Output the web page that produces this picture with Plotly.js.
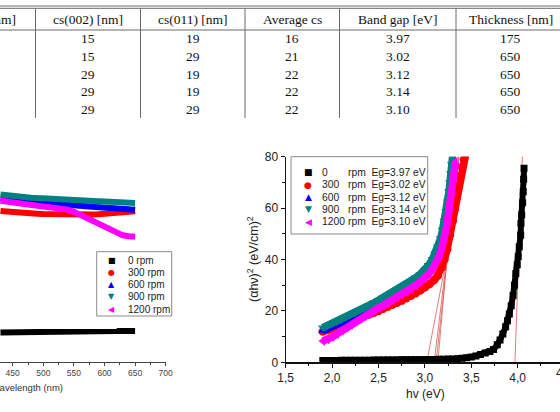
<!DOCTYPE html>
<html>
<head>
<meta charset="utf-8">
<script src="https://cdn.plot.ly/plotly-3.0.1.min.js"></script>
<style>
  html, body { margin: 0; padding: 0; background: #fff; }
  #chart { width: 560px; height: 412px; }
</style>
</head>
<body>
<div id="chart"></div>
<script>
// ---------------- data ----------------
const speeds    = [0, 300, 600, 900, 1200];          // spin speed (rpm)
const cs002     = [15, 15, 29, 29, 29];
const cs011     = [19, 29, 19, 19, 29];
const avgCs     = [16, 21, 22, 22, 22];
const bandGap   = [3.97, 3.02, 3.12, 3.14, 3.10];    // eV
const thickness = [175, 650, 650, 650, 650];         // nm
const tableHeaders = ['cs(010) [nm]', 'cs(002) [nm]', 'cs(011) [nm]', 'Average cs', 'Band gap [eV]', 'Thickness [nm]'];

// transmission spectra vs wavelength
const wavelength = [430,440,450,460,470,480,490,500,510,520,530,540,550,560,570,580,590,600,610,620,630,640,650];
const trans0    = [13.2,13.2,13.3,13.3,13.3,13.4,13.4,13.4,13.5,13.5,13.5,13.6,13.6,13.6,13.7,13.7,13.7,13.8,13.8,13.8,13.9,13.9,13.9];
const trans300  = [68.0,67.7,67.4,67.2,67.0,66.8,66.7,66.6,66.5,66.4,66.4,66.3,66.3,66.3,66.3,66.4,66.5,66.6,66.8,67.0,67.3,67.6,67.9];
const trans600  = [73.7,73.3,72.9,72.6,72.3,72.0,71.8,71.6,71.3,71.1,70.9,70.7,70.5,70.3,70.1,69.9,69.7,69.5,69.3,69.1,68.9,68.7,68.5];
const trans900  = [75.4,75.0,74.7,74.4,74.2,74.0,73.8,73.6,73.4,73.2,73.0,72.9,72.8,72.7,72.6,72.5,72.4,72.3,72.2,72.1,71.9,71.7,71.6];
const trans1200 = [72.6,72.1,71.6,71.2,70.9,70.6,70.3,70.0,69.7,69.4,69.1,68.6,67.6,66.3,64.9,63.5,62.2,61.0,59.5,58.0,57.0,56.6,56.4];

// Tauc plot: (alpha h nu)^2 vs photon energy
const hv0   = [1.90,1.95,2.00,2.05,2.10,2.15,2.20,2.25,2.30,2.35,2.40,2.45,2.50,2.55,2.60,2.65,2.70,2.75,2.80,2.85,2.90,2.95,3.00,3.05,3.10,3.15,3.20,3.25,3.30,3.35,3.40,3.45,3.50,3.55,3.60,3.65,3.70,3.74,3.78,3.81,3.84,3.87,3.89,3.91,3.93,3.95,3.965,3.98,3.995,4.006,4.017,4.032,4.035,4.043,4.053,4.060,4.064,4.068];
const tauc0 = [0.7,0.7,0.7,0.7,0.75,0.75,0.75,0.8,0.8,0.8,0.8,0.85,0.85,0.85,0.9,0.9,0.9,0.95,0.95,1.0,1.0,1.0,1.05,1.1,1.1,1.15,1.2,1.25,1.3,1.4,1.6,1.8,2.1,2.5,3.0,3.6,4.2,5.0,6.8,8.7,11.0,13.8,16.2,18.8,22.0,26.0,30.0,34.6,38.0,41.1,45.0,49.5,54.1,57.3,62.1,66.4,71.2,75.5];

const hv300   = [1.90,1.95,2.00,2.05,2.10,2.15,2.20,2.25,2.30,2.35,2.40,2.45,2.50,2.55,2.60,2.65,2.70,2.75,2.80,2.85,2.90,2.95,3.00,3.05,3.10,3.14,3.18,3.21,3.24,3.27,3.30,3.32,3.34,3.36,3.38,3.40,3.42,3.44];
const tauc300 = [12.0,12.5,13.0,13.7,14.4,15.1,15.9,16.7,17.3,18.0,18.6,19.3,20.0,20.8,21.6,22.4,23.2,24.0,24.9,25.9,26.9,28.0,29.2,30.5,32.0,33.8,36.8,40.0,44.0,49.5,55.0,59.5,64.0,68.5,72.5,76.0,79.0,81.0];

const hv600   = [1.90,1.95,2.00,2.05,2.10,2.15,2.20,2.25,2.30,2.35,2.40,2.45,2.50,2.55,2.60,2.65,2.70,2.75,2.80,2.85,2.90,2.95,3.00,3.04,3.08,3.11,3.14,3.17,3.19,3.21,3.23,3.25,3.265,3.28,3.29,3.30];
const tauc600 = [12.3,13.0,13.8,14.6,15.4,16.3,17.2,18.1,19.0,20.0,20.9,21.9,22.8,23.8,24.8,25.8,26.8,27.9,29.0,30.1,31.3,32.7,34.2,35.8,37.8,39.8,42.2,45.2,48.0,51.5,55.5,60.0,64.5,69.5,73.5,77.5];

const hv900   = [1.90,1.95,2.00,2.05,2.10,2.15,2.20,2.25,2.30,2.35,2.40,2.45,2.50,2.55,2.60,2.65,2.70,2.75,2.80,2.85,2.90,2.95,3.00,3.04,3.08,3.11,3.14,3.17,3.19,3.21,3.23,3.245,3.26,3.27,3.28,3.29,3.30];
const tauc900 = [13.5,14.3,15.0,15.8,16.6,17.5,18.4,19.3,20.3,21.2,22.2,23.1,24.1,25.1,26.1,27.1,28.2,29.3,30.4,31.6,32.9,34.3,36.0,37.8,40.0,42.3,45.0,48.2,51.5,55.0,58.7,62.5,66.5,70.0,73.5,77.0,80.5];

const hv1200   = [1.90,1.95,2.00,2.05,2.10,2.15,2.20,2.25,2.30,2.35,2.40,2.45,2.50,2.55,2.60,2.65,2.70,2.75,2.80,2.85,2.90,2.95,3.00,3.04,3.08,3.12,3.15,3.18,3.21,3.23,3.25,3.27,3.29,3.305,3.32,3.33];
const tauc1200 = [8.3,8.8,9.8,11.0,12.2,13.4,14.6,15.8,16.9,18.0,19.1,20.1,21.1,22.1,23.1,24.1,25.2,26.3,27.4,28.6,29.9,31.3,32.8,34.3,36.2,38.5,41.0,44.0,48.0,52.0,56.5,61.5,66.5,71.0,75.0,78.0];

// slopes of the linear fits used to extrapolate the band gaps, (eV/cm)^2 per eV
const fitSlope = [1000, 190, 330, 420, 300];

// ---------------- styling ----------------
const colors  = ['#000000', '#ff0000', '#0000ff', '#008080', '#ff00ff'];
const symbols = ['square', 'circle', 'triangle-up', 'triangle-down', 'triangle-left'];
const glyphs  = ['\u25A0', '\u25CF', '\u25B2', '\u25BC', '\u25C0'];
const W = 560, H = 412;
const px = x => x / W;          // pixel -> paper (x)
const py = y => 1 - y / H;      // pixel -> paper (y)
const sans = 'Liberation Sans, Arial, sans-serif';
const serif = 'Liberation Serif, Times New Roman, serif';

const transSeries = [trans0, trans300, trans600, trans900, trans1200];
const hvSeries    = [hv0, hv300, hv600, hv900, hv1200];
const taucSeries  = [tauc0, tauc300, tauc600, tauc900, tauc1200];

const traces = [];

// transmission curves (left panel)
transSeries.forEach((t, i) => {
  traces.push({
    type: 'scatter', mode: 'lines', x: wavelength, y: t,
    xaxis: 'x', yaxis: 'y', showlegend: false,
    line: { color: colors[i], width: 6 }
  });
});

// extrapolated linear fits (right panel)
bandGap.forEach((eg, i) => {
  traces.push({
    type: 'scatter', mode: 'lines',
    x: [eg, eg + 85 / fitSlope[i]], y: [0, 85],
    xaxis: 'x2', yaxis: 'y2', showlegend: false,
    line: { color: '#e05a5a', width: 0.8 }
  });
});

// Tauc curves (right panel): dense symbols drawn as a thick band
hvSeries.forEach((hv, i) => {
  traces.push({
    type: 'scatter', mode: 'lines+markers', x: hv, y: taucSeries[i],
    xaxis: 'x2', yaxis: 'y2', showlegend: false,
    line: { color: colors[i], width: i === 0 ? 6 : 7.5 },
    marker: { color: colors[i], symbol: symbols[i], size: i === 0 ? 7 : 8.5, line: { width: 0 } }
  });
});

// ---------------- table ----------------
const shapes = [];
const annotations = [];
const lineCol = '#6a6a6a';
shapes.push({ type: 'line', xref: 'paper', yref: 'paper', x0: 0, x1: 1, y0: py(6), y1: py(6), line: { color: lineCol, width: 1 } });
shapes.push({ type: 'line', xref: 'paper', yref: 'paper', x0: 0, x1: 1, y0: py(8.3), y1: py(8.3), line: { color: lineCol, width: 1 } });
shapes.push({ type: 'line', xref: 'paper', yref: 'paper', x0: 0, x1: 1, y0: py(30), y1: py(30), line: { color: lineCol, width: 1 } });
const colLines = [35.5, 140.5, 245, 339.5, 456];
colLines.forEach(x => shapes.push({ type: 'line', xref: 'paper', yref: 'paper', x0: px(x), x1: px(x), y0: py(8.3), y1: py(118), line: { color: lineCol, width: 1 } }));

const colCenters = [-19, 88, 192.5, 292, 397.5, 510.5];
const tableCols = [null, cs002, cs011, avgCs, bandGap.map(v => v.toFixed(2)), thickness];
const headerY = 19.5, rowY0 = 38.9, rowDy = 17.6;
const tFont = { family: serif, size: 13.5, color: '#111' };
tableHeaders.forEach((h, j) => {
  annotations.push({ xref: 'paper', yref: 'paper', x: px(colCenters[j]), y: py(headerY), text: h, showarrow: false, xanchor: 'center', yanchor: 'middle', font: tFont });
  if (tableCols[j]) tableCols[j].forEach((v, r) => {
    annotations.push({ xref: 'paper', yref: 'paper', x: px(colCenters[j]), y: py(rowY0 + r * rowDy), text: String(v), showarrow: false, xanchor: 'center', yanchor: 'middle', font: tFont });
  });
});

// ---------------- left legend ----------------
shapes.push({ type: 'rect', xref: 'paper', yref: 'paper', x0: px(96.7), x1: px(171.7), y0: py(251.7), y1: py(316), fillcolor: '#fff', line: { color: '#8a8a8a', width: 1 } });
speeds.forEach((s, i) => {
  const y = 260 + i * 12.3;
  annotations.push({ xref: 'paper', yref: 'paper', x: px(111.7), y: py(y), text: glyphs[i], showarrow: false, xanchor: 'center', yanchor: 'middle', font: { family: 'DejaVu Sans', size: 8, color: colors[i] } });
  annotations.push({ xref: 'paper', yref: 'paper', x: px(126), y: py(y), text: s + ' rpm', showarrow: false, xanchor: 'left', yanchor: 'middle', font: { family: sans, size: 10, color: '#222' } });
});
annotations.push({ xref: 'paper', yref: 'paper', x: px(65), y: py(387), text: 'Wavelength (nm)', showarrow: false, xanchor: 'right', yanchor: 'middle', font: { family: sans, size: 9.5, color: '#333' } });

// ---------------- right legend ----------------
shapes.push({ type: 'rect', xref: 'paper', yref: 'paper', x0: px(291), x1: px(427.7), y0: py(156.7), y1: py(234), fillcolor: '#fff', line: { color: '#8a8a8a', width: 1 }, layer: 'above' });
speeds.forEach((s, i) => {
  const y = 172.3 + i * 12.35;
  annotations.push({ xref: 'paper', yref: 'paper', x: px(308), y: py(y), text: glyphs[i], showarrow: false, xanchor: 'center', yanchor: 'middle', font: { family: 'DejaVu Sans', size: 9, color: colors[i] } });
  annotations.push({ xref: 'paper', yref: 'paper', x: px(320), y: py(y), text: String(s), showarrow: false, xanchor: 'left', yanchor: 'middle', font: { family: sans, size: 10.3, color: '#222' } });
  annotations.push({ xref: 'paper', yref: 'paper', x: px(345.5), y: py(y), text: 'rpm\u00a0\u00a0Eg=' + bandGap[i].toFixed(2) + ' eV', showarrow: false, xanchor: 'left', yanchor: 'middle', font: { family: sans, size: 10.3, color: '#222' } });
});
annotations.push({ xref: 'paper', yref: 'paper', x: px(253), y: py(259), text: '(\u03b1h\u03bd)<sup>2</sup> (eV/cm)<sup>2</sup>', textangle: -90, showarrow: false, xanchor: 'center', yanchor: 'middle', font: { family: sans, size: 12.5, color: '#222' } });
annotations.push({ xref: 'paper', yref: 'paper', x: px(425.7), y: py(394), text: 'hv (eV)', showarrow: false, xanchor: 'center', yanchor: 'middle', font: { family: sans, size: 12, color: '#222' } });
annotations.push({ xref: 'paper', yref: 'paper', x: px(564), y: py(373.3), text: '4,5', showarrow: false, xanchor: 'center', yanchor: 'middle', font: { family: sans, size: 12, color: '#222' } });

const layout = {
  width: W, height: H,
  margin: { l: 0, r: 0, t: 0, b: 0 },
  paper_bgcolor: '#fff', plot_bgcolor: 'rgba(0,0,0,0)',
  separators: ',.',
  showlegend: false,
  xaxis: {
    domain: [0, px(165.7)], range: [429.25, 700],
    showline: true, linecolor: '#444', linewidth: 1, mirror: false,
    ticks: 'outside', ticklen: 3.5, tickcolor: '#444', tickwidth: 1, dtick: 50, tick0: 0,
    minor: { ticks: 'outside', ticklen: 2, dtick: 25, tickcolor: '#444' },
    showgrid: false, zeroline: false,
    tickfont: { family: sans, size: 8.5, color: '#444' }, anchor: 'y'
  },
  yaxis: {
    domain: [py(361.7), py(140)], range: [0, 100],
    showline: false, showticklabels: false, ticks: '', showgrid: false, zeroline: false, anchor: 'x'
  },
  xaxis2: {
    domain: [px(285.7), 1], range: [1.5, 1.5 + (560 - 285.7) / 92.8],
    showline: true, linecolor: '#111', linewidth: 1.2,
    ticks: 'outside', ticklen: 4, tickcolor: '#111', tickwidth: 1, dtick: 0.5, tick0: 0, tickformat: '.1f',
    minor: { ticks: 'outside', ticklen: 2.5, dtick: 0.25, tickcolor: '#111' },
    showgrid: false, zeroline: false,
    tickfont: { family: sans, size: 12, color: '#222' }, anchor: 'y2'
  },
  yaxis2: {
    domain: [py(362.3), py(156.7)], range: [0, 80],
    showline: true, linecolor: '#111', linewidth: 1.2,
    ticks: 'outside', ticklen: 4, tickcolor: '#111', tickwidth: 1, dtick: 20,
    minor: { ticks: 'outside', ticklen: 2.5, dtick: 10, tickcolor: '#111' },
    showgrid: false, zeroline: false,
    tickfont: { family: sans, size: 12, color: '#222' }, anchor: 'x2'
  },
  shapes: shapes,
  annotations: annotations
};

Plotly.newPlot('chart', traces, layout, { staticPlot: true, displayModeBar: false });
</script>
</body>
</html>
